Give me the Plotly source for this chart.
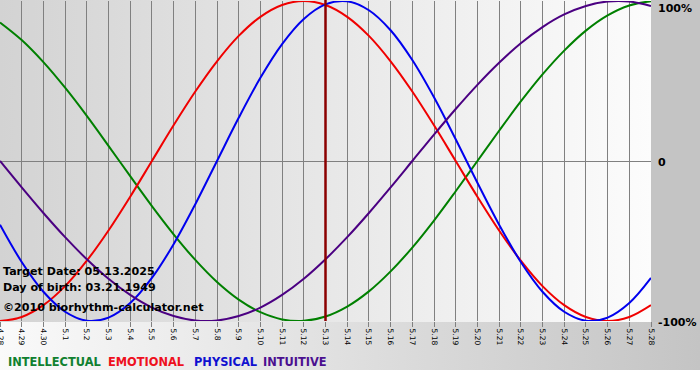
import base64
import plotly.graph_objects as go

# ---------------- data ----------------
dates = ["4.28", "4.29", "4.30", "5.1", "5.2", "5.3", "5.4", "5.5", "5.6", "5.7",
         "5.8", "5.9", "5.10", "5.11", "5.12", "5.13", "5.14", "5.15", "5.16", "5.17",
         "5.18", "5.19", "5.20", "5.21", "5.22", "5.23", "5.24", "5.25", "5.26", "5.27", "5.28"]

intellectual = [0.866, 0.756, 0.618, 0.458, 0.282, 0.095, -0.095, -0.282, -0.458, -0.618,
                -0.756, -0.866, -0.945, -0.990, -0.999, -0.972, -0.910, -0.815, -0.690, -0.541,
                -0.372, -0.189, 0.0, 0.189, 0.372, 0.541, 0.690, 0.815, 0.910, 0.972, 0.999]

emotional = [-1.0, -0.975, -0.901, -0.782, -0.623, -0.434, -0.223, 0.0, 0.223, 0.434,
             0.623, 0.782, 0.901, 0.975, 1.0, 0.975, 0.901, 0.782, 0.623, 0.434,
             0.223, 0.0, -0.223, -0.434, -0.623, -0.782, -0.901, -0.975, -1.0, -0.975, -0.901]

physical = [-0.398, -0.631, -0.817, -0.942, -0.998, -0.979, -0.888, -0.731, -0.520, -0.270,
            0.0, 0.270, 0.520, 0.731, 0.888, 0.979, 0.998, 0.942, 0.817, 0.631,
            0.398, 0.136, -0.136, -0.398, -0.631, -0.817, -0.942, -0.998, -0.979, -0.888, -0.731]

intuitive = [0.0, -0.165, -0.325, -0.476, -0.614, -0.736, -0.837, -0.916, -0.969, -0.997,
             -0.997, -0.969, -0.916, -0.837, -0.736, -0.614, -0.476, -0.325, -0.165, 0.0,
             0.165, 0.325, 0.476, 0.614, 0.736, 0.837, 0.916, 0.969, 0.997, 0.997, 0.969]

series_names = ["INTELLECTUAL", "EMOTIONAL", "PHYSICAL", "INTUITIVE"]
series_colors = ["#008000", "#f00000", "#0000ee", "#4b0082"]
legend_colors = ["#108030", "#ee1020", "#1010d0", "#4b1090"]

y_tick_vals = [1, 0, -1]
y_tick_text = ["100%", "0", "-100%"]

target_date = "5.13"
info_lines = ["Target Date: 05.13.2025", "Day of birth: 03.21.1949", "\u00a92010 biorhythm-calculator.net"]

# ---------------- layout geometry ----------------
W, H = 700, 380
ML, MR, MT, MB = 0, 49, 1, 59
PW, PH = W - ML - MR, H - MT - MB


def px_x(px):
    return (px - ML) / PW


def px_y(py):
    return (H - MB - py) / PH


# background as inline svg (gradients)
svg = (
    "<svg xmlns='http://www.w3.org/2000/svg' width='700' height='380' viewBox='0 0 700 380' preserveAspectRatio='none'>"
    "<defs>"
    "<linearGradient id='a' x1='0' x2='1' y1='0' y2='0'>"
    "<stop offset='0' stop-color='#d3d3d3'/><stop offset='1' stop-color='#fcfcfc'/></linearGradient>"
    "<linearGradient id='b' x1='0' x2='1' y1='0' y2='0'>"
    "<stop offset='0' stop-color='#fafafa'/><stop offset='1' stop-color='#c4c4c4'/></linearGradient>"
    "</defs>"
    "<rect x='0' y='0' width='700' height='380' fill='#ffffff'/>"
    "<rect x='651' y='0' width='49' height='322' fill='#c4c4c4'/>"
    "<rect x='0' y='0' width='651' height='322' fill='url(#a)'/>"
    "<rect x='0' y='322' width='700' height='48' fill='url(#b)'/>"
    "</svg>"
)
svg_uri = "data:image/svg+xml;base64," + base64.b64encode(svg.encode()).decode()

fig = go.Figure()

for name, vals, col in zip(series_names, [intellectual, emotional, physical, intuitive], series_colors):
    fig.add_trace(go.Scatter(x=dates, y=vals, mode="lines", name=name,
                             line=dict(color=col, width=2, shape="spline", smoothing=1.0),
                             showlegend=False, hoverinfo="skip", cliponaxis=False))

ti = dates.index(target_date)
fig.add_shape(type="line", xref="x", yref="paper", x0=ti, x1=ti, y0=0, y1=1.003,
              line=dict(color="#8b0000", width=2.5), layer="above")

bold = dict(family="DejaVu Sans", size=11.1, color="#000000", weight="bold")

annotations = []
# right axis labels
shifts = [-6, 0, 0]
for v, t, s in zip(y_tick_vals, y_tick_text, shifts):
    annotations.append(dict(x=1, xref="paper", xanchor="left", xshift=5,
                            y=v, yref="y", yanchor="middle", yshift=s - 1,
                            text=t, showarrow=False,
                            font=dict(family="DejaVu Sans", size=11, color="#000000", weight="bold")))
# info text
info_y = [271, 287, 307]
for t, py in zip(info_lines, info_y):
    annotations.append(dict(x=px_x(1), xref="paper", xanchor="left",
                            y=px_y(py), yref="paper", yanchor="middle",
                            text=t, showarrow=False, font=bold))
# legend
leg_x = [6, 106, 192, 261]
for t, c, px in zip(series_names, legend_colors, leg_x):
    annotations.append(dict(x=px_x(px), xref="paper", xanchor="left",
                            y=px_y(362), yref="paper", yanchor="middle",
                            text=t, showarrow=False,
                            font=dict(family="DejaVu Sans", size=11.4, color=c, weight="bold")))

fig.update_layout(
    width=W, height=H,
    margin=dict(l=ML, r=MR, t=MT, b=MB, pad=0, autoexpand=False),
    paper_bgcolor="#ffffff",
    plot_bgcolor="rgba(0,0,0,0)",
    images=[dict(source=svg_uri, xref="paper", yref="paper",
                 x=px_x(0), y=px_y(0), sizex=W / PW, sizey=H / PH,
                 xanchor="left", yanchor="top", sizing="stretch", layer="below")],
    annotations=annotations,
    xaxis=dict(type="category", range=[0, len(dates) - 1], showgrid=True,
               gridcolor="#808080", gridwidth=1, ticks="outside", ticklen=5,
               tickcolor="#808080", tickangle=90, automargin=False,
               tickfont=dict(family="DejaVu Sans", size=7.5, color="#000000"),
               zeroline=False, showline=False, fixedrange=True),
    yaxis=dict(range=[-1, 1], tickvals=y_tick_vals, showticklabels=False,
               showgrid=True, gridcolor="#808080", gridwidth=1, automargin=False,
               zeroline=False, showline=False, fixedrange=True),
    showlegend=False,
)

fig.write_html("out.html", config={"displayModeBar": False, "staticPlot": True},
               post_script="document.body.style.margin='0';document.body.style.padding='0';")
